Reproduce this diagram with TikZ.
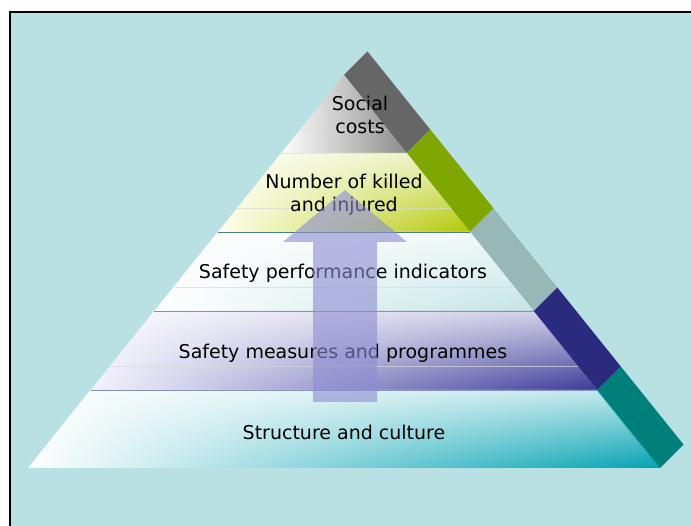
\documentclass[tikz,border=0pt]{standalone}
\usepackage{fontspec}
\setmainfont{DejaVu Sans}
\usetikzlibrary{fadings}

\definecolor{bgcyan}{HTML}{B9E0E2}
\definecolor{bandgray}{HTML}{666666}
\definecolor{bandgreen}{HTML}{7FA700}
\definecolor{bandslate}{HTML}{98B7B7}
\definecolor{bandnavy}{HTML}{2A2A7E}
\definecolor{bandteal}{HTML}{007F7B}
\definecolor{arrowblue}{HTML}{8C8CD2}
\definecolor{killedgreen}{HTML}{B2C800}
\definecolor{measuresblue}{HTML}{3A3898}
\definecolor{culturecyan}{HTML}{00A2B2}

\tikzfading[name=topwhite, top color=transparent!25, middle color=transparent!100, bottom color=transparent!100]

\tikzset{
  layertext/.style={font=\fontsize{19}{23.5}\selectfont, align=center, text=black},
  seam/.style={line width=0.8pt},
  faintline/.style={draw=white!70!gray, line width=0.6pt, opacity=0.7},
  glow/.style={white, path fading=topwhite}
}

\begin{document}
\begin{tikzpicture}[x=1pt,y=-1pt]
            \clip (0,0) rectangle (691,526);
            \fill[white] (0,0) rectangle (691,526);
            \filldraw[fill=bgcyan,draw=black,line width=1.7pt] (10,12) rectangle (720,560);
            % side of the pyramid
            \fill[bandgray] (344,75) -- (367.5,51.5) -- (430.2,129.5) -- (406.7,153) -- cycle;
            \fill[bandgreen] (406.7,153) -- (430.2,129.5) -- (493.7,208.5) -- (470.2,232) -- cycle;
            \fill[bandslate] (470.2,232) -- (493.7,208.5) -- (557.3,287.5) -- (533.8,311) -- cycle;
            \fill[bandnavy] (533.8,311) -- (557.3,287.5) -- (620.8,366.5) -- (597.3,390) -- cycle;
            \fill[bandteal] (597.3,390) -- (620.8,366.5) -- (683.5,444.5) -- (660,468) -- cycle;
            % front layers
            \shade[left color=white, right color=black!45] (344,75) -- (406.7,153) -- (281.3,153) -- cycle;
            \shade[left color=white!92!yellow, right color=killedgreen] (281.3,153) -- (406.7,153) -- (470.2,232) -- (217.8,232) -- cycle;
            \fill[glow] (281.3,153) -- (406.7,153) -- (470.2,232) -- (217.8,232) -- cycle;
            \shade[left color=white, right color=bgcyan!85] (217.8,232) -- (470.2,232) -- (533.8,311) -- (154.2,311) -- cycle;
            \fill[glow] (217.8,232) -- (470.2,232) -- (533.8,311) -- (154.2,311) -- cycle;
            \shade[left color=white!95!blue, right color=measuresblue] (154.2,311) -- (533.8,311) -- (597.3,390) -- (90.7,390) -- cycle;
            \fill[glow] (154.2,311) -- (533.8,311) -- (597.3,390) -- (90.7,390) -- cycle;
            \shade[left color=white, right color=culturecyan] (90.7,390) -- (597.3,390) -- (660,468) -- (28,468) -- cycle;
            \fill[glow] (90.7,390) -- (597.3,390) -- (660,468) -- (28,468) -- cycle;
            % seams and bevel lines
            \draw[seam, white!80!gray] (281.3,153) -- (406.7,153);
            \draw[seam, gray!60!teal] (217.8,232) -- (470.2,232);
            \draw[seam, bgcyan!70!blue!60!gray] (154.2,311) -- (533.8,311);
            \draw[seam, bgcyan!70!blue!60!gray] (90.7,390) -- (597.3,390);
            \draw[faintline] (300.6,129) -- (387.4,129);
            \draw[faintline] (237.1,208) -- (450.9,208);
            \draw[faintline] (173.5,287) -- (514.5,287);
            \draw[faintline] (110,366) -- (578,366);
            % labels
            \node[layertext] (social) at (360,115) {Social\\costs};
            \node[layertext] (killed) at (344,195) {Number of killed\\and injured};
            \node[layertext] (spi) at (343,273) {Safety performance indicators};
            \node[layertext] (measures) at (343,353) {Safety measures and programmes};
            \node[layertext] (culture) at (344,432) {Structure and culture};
            % upward arrow
            \fill[arrowblue, opacity=0.6] (313,402) -- (313,242) -- (283,242) -- (345,190) -- (407,242) -- (377,242) -- (377,402) -- cycle;
        \end{tikzpicture}
\end{document}
